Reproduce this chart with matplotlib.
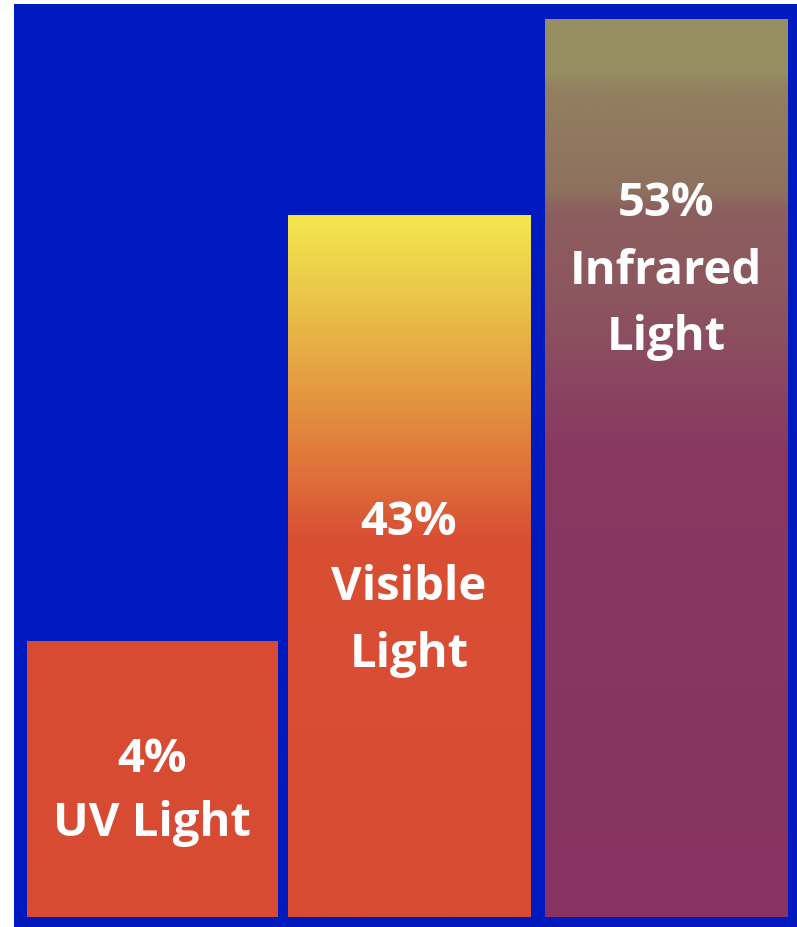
import matplotlib
matplotlib.use("Agg")
import matplotlib.pyplot as plt
import numpy as np
from matplotlib.colors import LinearSegmentedColormap

# Share of solar energy by band
categories = ["UV Light", "Visible Light", "Infrared Light"]
percents = [4, 43, 53]
# drawn bar heights (panel units, not proportional to the shares)
bar_heights = [276, 702, 898]
bar_widths = [0.973, 0.945, 0.945]
# text lines inside each bar and their baselines (panel units)
label_lines = [["4%", "UV Light"],
               ["43%", "Visible", "Light"],
               ["53%", "Infrared", "Light"]]
label_baselines = [[146, 82], [383, 318, 251], [702, 634, 568]]

panel_blue = "#001AC0"

# vertical colour ramps, top -> bottom of each bar
ramps = [
    [(0.0, "#D84C33"), (1.0, "#D84B33")],
    [(0.0, "#F4E74D"), (0.12, "#EAC349"), (0.26, "#E39540"),
     (0.36, "#DF733A"), (0.46, "#D94F34"), (1.0, "#D84B33")],
    [(0.0, "#978F62"), (0.058, "#978E62"), (0.075, "#92805F"),
     (0.19, "#8E705F"), (0.212, "#8D5E5E"), (0.31, "#8C565E"),
     (0.48, "#893862"), (1.0, "#873260")],
]

fig = plt.figure(figsize=(7.97, 9.28), dpi=100)
fig.patch.set_facecolor("white")
ax = fig.add_axes([14 / 797, 0, 783 / 797, 923 / 928])
ax.set_facecolor(panel_blue)

x = np.arange(len(categories))
bars = ax.bar(x, bar_heights, width=bar_widths, color="none", edgecolor="none")

for bar, ramp in zip(bars, ramps):
    cmap = LinearSegmentedColormap.from_list("ramp", ramp)
    grad = np.linspace(0, 1, 400).reshape(-1, 1)
    x0, w, h = bar.get_x(), bar.get_width(), bar.get_height()
    im = ax.imshow(grad, cmap=cmap, aspect="auto", origin="upper",
                   extent=[x0, x0 + w, 0, h], interpolation="bicubic", zorder=2)
    im.set_clip_path(bar)

for xi, lines, bases in zip(x, label_lines, label_baselines):
    for line, base in zip(lines, bases):
        ax.text(xi, base, line, ha="center", va="baseline",
                color="white", fontsize=34, fontweight="bold",
                family="Open Sans", zorder=3)

ax.set_xlim(-0.537, 2.510)
ax.set_ylim(-10, 913)
for s in ax.spines.values():
    s.set_visible(False)
ax.set_xticks([])
ax.set_yticks([])

plt.savefig("out.png", dpi=100, facecolor=fig.get_facecolor())
